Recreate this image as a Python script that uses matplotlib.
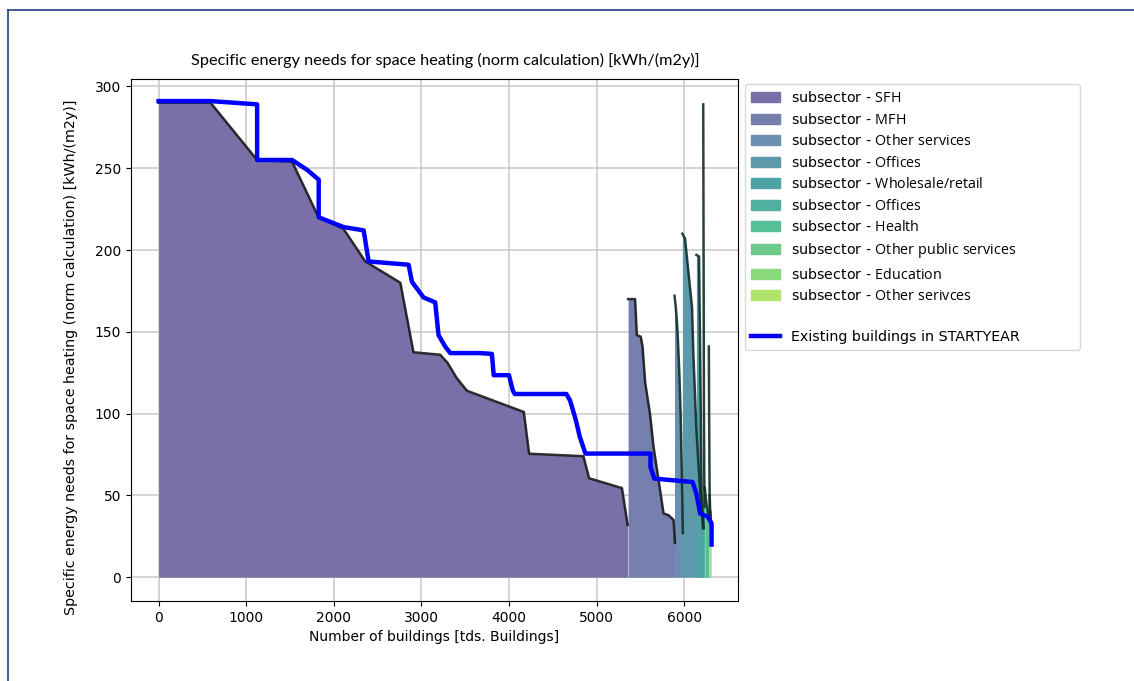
import matplotlib
matplotlib.use("Agg")
import matplotlib.pyplot as plt
from matplotlib.patches import Patch
from matplotlib.lines import Line2D

plt.rcParams["mathtext.fontset"] = "custom"
plt.rcParams["mathtext.rm"] = "Open Sans"
plt.rcParams["mathtext.it"] = "Open Sans:italic"
plt.rcParams["mathtext.bf"] = "Open Sans:bold"

# ---------------- data ----------------
sfh_x = [0, 593, 1125, 1524, 1826, 2110, 2360, 2760, 2910, 3215, 3300, 3400, 3520, 3870, 4170, 4230, 4850, 4915, 5290, 5355]
sfh_y = [290, 290, 255, 254, 220, 213, 193, 180, 137.5, 136, 131, 122, 114, 107, 101, 75.5, 74, 60.5, 54.5, 32]

mfh_x = [5360, 5440, 5460, 5505, 5525, 5555, 5610, 5650, 5726, 5765, 5820, 5880, 5895]
mfh_y = [170, 170, 148, 147, 141, 119, 100, 80, 53, 39, 38, 35, 21]

oth_x = [5890, 5905, 5925, 5945, 5960, 5975, 5985]
oth_y = [172, 165, 150, 125, 100, 60, 27]

off_x = [5980, 6010, 6050, 6090, 6105, 6140, 6180, 6215]
off_y = [210, 207, 186, 165, 137, 90, 55, 30]

whr_x = [6140, 6170, 6180, 6190, 6200, 6225]
whr_y = [197, 196, 150, 100, 50, 30]

off2_x = [6218, 6222, 6226, 6232]
off2_y = [289, 200, 100, 43]

hea_x = [6235, 6255, 6278]
hea_y = [55, 45, 38]

pub_x = [6282, 6286, 6292]
pub_y = [141, 95, 41]

edu_x = [6292, 6300]
edu_y = [50, 35]

oth2_x = [6300, 6310]
oth2_y = [40, 30]

subsector_names = ["SFH", "MFH", "Other services", "Offices", "Wholesale/retail",
                   "Offices", "Health", "Other public services", "Education", "Other serivces"]
subsector_colors = ["#7a6fa6", "#7580ae", "#6a8fb0", "#5e98ab", "#50a3a4",
                    "#4fb0a0", "#55bf98", "#6ccb8a", "#8ad87c", "#b0e46a"]

exist_x = [0, 593, 1125, 1125, 1524, 1695, 1828, 1828, 2113, 2341, 2398, 2854, 2893, 3025,
           3158, 3196, 3272, 3330, 3671, 3805, 3826, 4000, 4045, 4066, 4656, 4698, 4764,
           4808, 4873, 5616, 5616, 5660, 6097, 6140, 6183, 6270, 6313, 6313]
exist_y = [291, 291, 289, 255, 255, 249, 243, 220, 214, 212, 193, 191, 180.5, 171,
           168, 148, 141, 137, 137, 136.5, 123.5, 123.5, 114, 112, 112, 108, 96,
           86, 75.6, 75.6, 67.4, 60.3, 58.2, 51, 39, 37, 33, 20]

series_x = [sfh_x, mfh_x, oth_x, off_x, whr_x, off2_x, hea_x, pub_x, edu_x, oth2_x]
series_y = [sfh_y, mfh_y, oth_y, off_y, whr_y, off2_y, hea_y, pub_y, edu_y, oth2_y]

title = "Specific energy needs for space heating (norm calculation) [kWh/(m2y)]"
xlabel = "Number of buildings [tds. Buildings]"
ylabel = "Specific energy needs for space heating (norm calculation) [kWh/(m2y)]"
existing_label = "Existing buildings in STARTYEAR"

# ---------------- figure ----------------
W, H = 1134, 681
fig = plt.figure(figsize=(W / 100, H / 100), dpi=100)
fig.patch.set_facecolor("white")

# outer page frame
fig.add_artist(Line2D([8 / W, 1.0], [1 - 10 / H, 1 - 10 / H], color="#24408a", lw=1.2))
fig.add_artist(Line2D([8 / W, 8 / W], [0, 1 - 10 / H], color="#24408a", lw=1.2))

ax = fig.add_axes([131 / W, 80 / H, 607 / W, 522 / H])
ax.set_axisbelow(True)
ax.grid(True, color="#c8c8c8", lw=1.1)

line_colors = ["#1a1a1a", "#1a1a1a", "#14302a", "#14302a", "#14302a",
               "#14302a", "#14302a", "#14302a", "#14302a", "#14302a"]


def mt(s):
    return "$\\mathrm{" + s.replace(" ", "\\ ") + "}$"


handles = []
for xs, ys, c, n, lc in zip(series_x, series_y, subsector_colors, subsector_names, line_colors):
    ax.fill_between(xs, 0, ys, color=c, lw=0)
    ax.plot(xs, ys, color=lc, lw=1.8, alpha=0.9)
    handles.append(Patch(facecolor=c, edgecolor=c, label="subsector - " + mt(n)))

ax.plot(exist_x, exist_y, color="#ff0000", lw=1)
ax.plot(exist_x, exist_y, color="#0000ff", lw=3.2)

handles.append(Patch(facecolor="none", edgecolor="none", label=" "))
handles.append(Line2D([0], [0], color="#0000ff", lw=3.2, label=existing_label + " " * 12))

ax.set_xlim(-315, 6615)
ax.set_ylim(-14.5, 304.5)
ax.set_xticks([0, 1000, 2000, 3000, 4000, 5000, 6000])
ax.set_yticks([0, 50, 100, 150, 200, 250, 300])
ax.tick_params(labelsize=10)

ax.set_title(title, fontsize=11.7, family=["Lato", "DejaVu Sans"], pad=10, x=0.518)
ax.set_xlabel(xlabel, fontsize=10)
ax.set_ylabel(ylabel, fontsize=10.3)
ax.yaxis.set_label_coords(-0.087, 0.466)

leg = ax.legend(handles=handles, loc="upper left", bbox_to_anchor=(1.012, 0.99),
                fontsize=10.3, frameon=True, borderaxespad=0, labelspacing=0.46)
leg.get_frame().set_edgecolor("#d0d0d0")

fig.savefig("out.png", dpi=100)
